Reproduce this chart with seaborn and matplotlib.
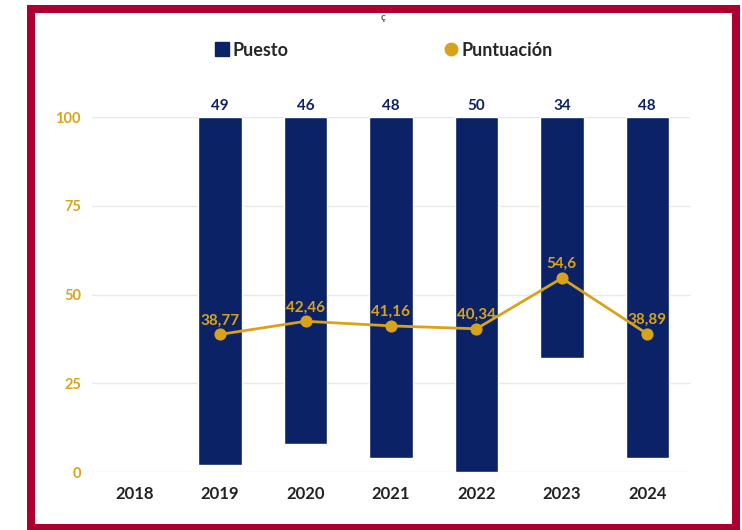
import matplotlib
matplotlib.use("Agg")
import matplotlib.pyplot as plt
import seaborn as sns
import pandas as pd
from matplotlib.patches import Rectangle
from matplotlib.lines import Line2D

years = ["2018", "2019", "2020", "2021", "2022", "2023", "2024"]
puesto = [None, 49, 46, 48, 50, 34, 48]
puntuacion = [None, 38.77, 42.46, 41.16, 40.34, 54.6, 38.89]
y_ticks = [0, 25, 50, 75, 100]

NAVY = "#0B2266"
GOLD = "#D9A21B"
RED = "#AE0030"

sns.set_theme(style="white")
plt.rcParams["font.family"] = ["Lato", "DejaVu Sans"]
plt.rcParams["font.weight"] = "bold"

df = pd.DataFrame({"year": years, "puesto": puesto, "puntuacion": puntuacion})

fig = plt.figure(figsize=(7.42, 5.30), dpi=100)
ax = fig.add_axes([92 / 742, 1 - 472 / 530, (690 - 92) / 742, (472 - 117) / 530])

# Bars on an inverted rank axis (rank 0 at top = 100, rank 50 at bottom = 0)
sns.barplot(data=df.dropna(), x="year", y="puesto", order=years, color=NAVY,
            width=0.51, saturation=1, ax=ax)
ax.set_ylim(50, 0)
ax.set_xlim(-0.5, len(years) - 0.5)
ax.set_yticks([50 - v / 2 for v in y_ticks])
ax.yaxis.grid(True, color="#e8e8e8", linewidth=1)
ax.set_axisbelow(True)
ax.set_xlabel("")
ax.set_ylabel("")
for s in ax.spines.values():
    s.set_visible(False)

for i, r in enumerate(puesto):
    if r is not None:
        ax.annotate(str(r), xy=(i, 0), xytext=(0, 3), textcoords="offset points",
                    ha="center", va="bottom", color=NAVY, fontsize=11, fontweight="bold")

# Line on the 0-100 axis
ax2 = ax.twinx()
ax.tick_params(axis="y", which="both", length=0, left=False, right=False,
               labelleft=False, labelright=False)
ax.tick_params(axis="x", length=0, pad=10, labelsize=12, labelcolor="#222222")
for lbl in ax.get_xticklabels():
    lbl.set_fontweight("bold")

sns.lineplot(data=df, x="year", y="puntuacion", color=GOLD, marker="o", markersize=8,
             markeredgecolor=GOLD, linewidth=2, ax=ax2)
ax2.set_ylim(0, 100)
ax2.set_yticks(y_ticks)
ax2.yaxis.tick_left()
ax2.tick_params(axis="y", which="both", length=0, pad=8, labelsize=10.5, labelcolor=GOLD,
                left=False, right=False, labelleft=True, labelright=False)
for lbl in ax2.get_yticklabels():
    lbl.set_fontweight("bold")
ax2.set_ylabel("")
ax2.set_xlabel("")
ax2.grid(False)
for s in ax2.spines.values():
    s.set_visible(False)

for i, v in enumerate(puntuacion):
    if v is not None:
        ax2.annotate(format(v, "g").replace(".", ","), xy=(i, v), xytext=(0, 5),
                     textcoords="offset points", ha="center", va="bottom",
                     color=GOLD, fontsize=11, fontweight="bold")

# Legend
handles = [
    Line2D([], [], linestyle="none", marker="s", markersize=10, color=NAVY),
    Line2D([], [], linestyle="none", marker="o", markersize=9, color=GOLD),
]
fig.legend(handles, ["Puesto", "Puntuación"], loc="center",
           bbox_to_anchor=(383 / 742, 1 - 50 / 530), ncol=2, frameon=False,
           columnspacing=8.5, handletextpad=0.1, handlelength=1.0,
           prop={"weight": "bold", "size": 13})

fig.text(383 / 742, 1 - 17 / 530, "ç", ha="center", va="center", fontsize=7, color="#555555")

# Red frame
fig.patches.append(Rectangle((31 / 742, 1 - 528 / 530), (736 - 31) / 742, (528 - 9) / 530,
                             transform=fig.transFigure, fill=False, edgecolor=RED,
                             linewidth=8 * 72 / 100, zorder=10))

fig.savefig("out.png", dpi=100)
